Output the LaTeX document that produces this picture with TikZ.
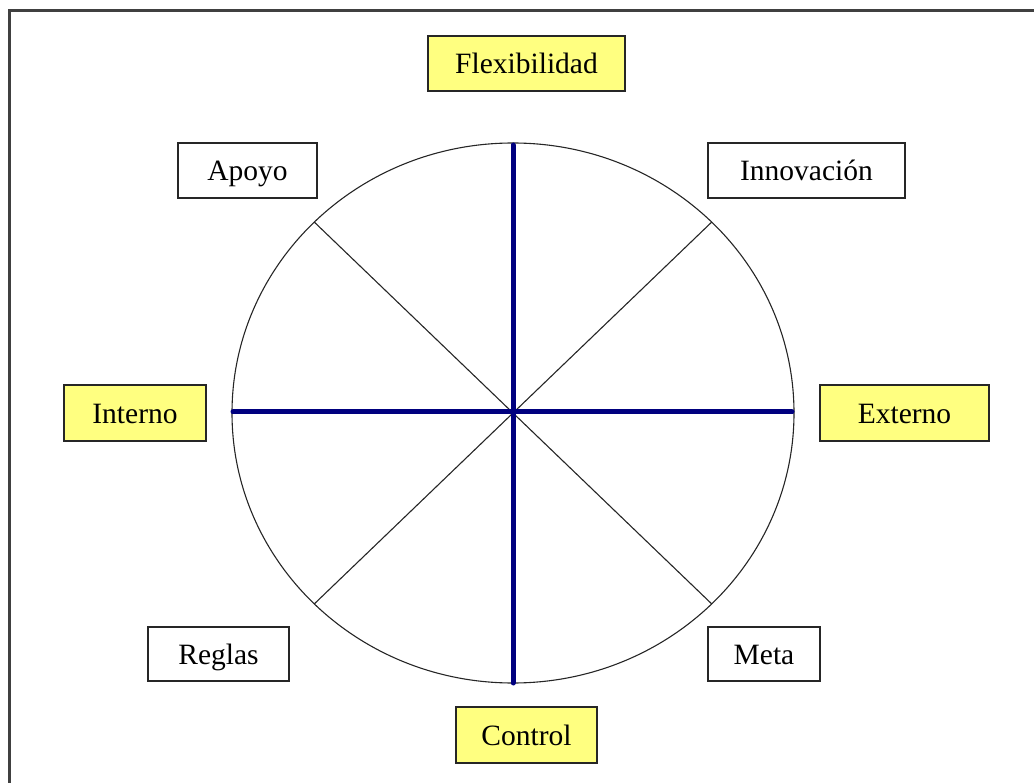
\documentclass[tikz,border=0pt]{standalone}
\usepackage{fontspec}
\usetikzlibrary{calc}
\setmainfont{Liberation Serif}
\definecolor{boxyellow}{HTML}{FFFF80}
\definecolor{axisblue}{HTML}{00007F}
\definecolor{framegray}{HTML}{404040}
\begin{document}
\begin{tikzpicture}[x=1pt,y=-1pt,
  lbl/.style={draw=black!85, line width=1.6pt, inner sep=0pt, font=\fontsize{29.5}{32}\selectfont, text height=22pt, text depth=1pt},
  ylbl/.style={lbl, fill=boxyellow},
  wlbl/.style={lbl, fill=white},
  axis/.style={draw=axisblue, line width=5pt, line cap=round},
  diag/.style={draw=black!85, line width=1.1pt}]
\useasboundingbox (0,0) rectangle (1034,783);
\begin{scope}
\clip (0,0) rectangle (1034,783);
\draw[framegray, line width=2.2pt] (9.5,10.5) rectangle (1050,800);
\end{scope}
% circle
\coordinate (c) at (513,413);
\draw[black!85, line width=1.1pt] (c) ellipse [x radius=281, y radius=270];
\coordinate (ul) at ($(c)+(-198.7,-190.9)$);
\coordinate (ur) at ($(c)+(198.7,-190.9)$);
\coordinate (ll) at ($(c)+(-198.7,190.9)$);
\coordinate (lr) at ($(c)+(198.7,190.9)$);
\coordinate (top) at (513,145);
\coordinate (bot) at (513,683);
\coordinate (lft) at (233,412);
\coordinate (rgt) at (792,412);
\draw[diag] (ul) -- (lr);
\draw[diag] (ur) -- (ll);
\draw[axis] (top) -- (bot);
\draw[axis] (lft) -- (rgt);
% labels
\node[ylbl, minimum width=197pt, minimum height=55pt] (flex) at (526.5,63.5) {Flexibilidad};
\node[wlbl, minimum width=197pt, minimum height=55pt] (innov) at (806.5,170.5) {Innovación};
\node[wlbl, minimum width=139pt, minimum height=55pt] (apoyo) at (247.5,170.5) {Apoyo};
\node[ylbl, minimum width=142pt, minimum height=56pt] (interno) at (135,413) {Interno};
\node[ylbl, minimum width=169pt, minimum height=56pt] (externo) at (904.5,413) {Externo};
\node[wlbl, minimum width=141pt, minimum height=54pt] (reglas) at (218.5,654) {Reglas};
\node[wlbl, minimum width=112pt, minimum height=54pt] (meta) at (764,654) {Meta};
\node[ylbl, minimum width=141pt, minimum height=56pt] (control) at (526.5,735) {Control};
\end{tikzpicture}
\end{document}
